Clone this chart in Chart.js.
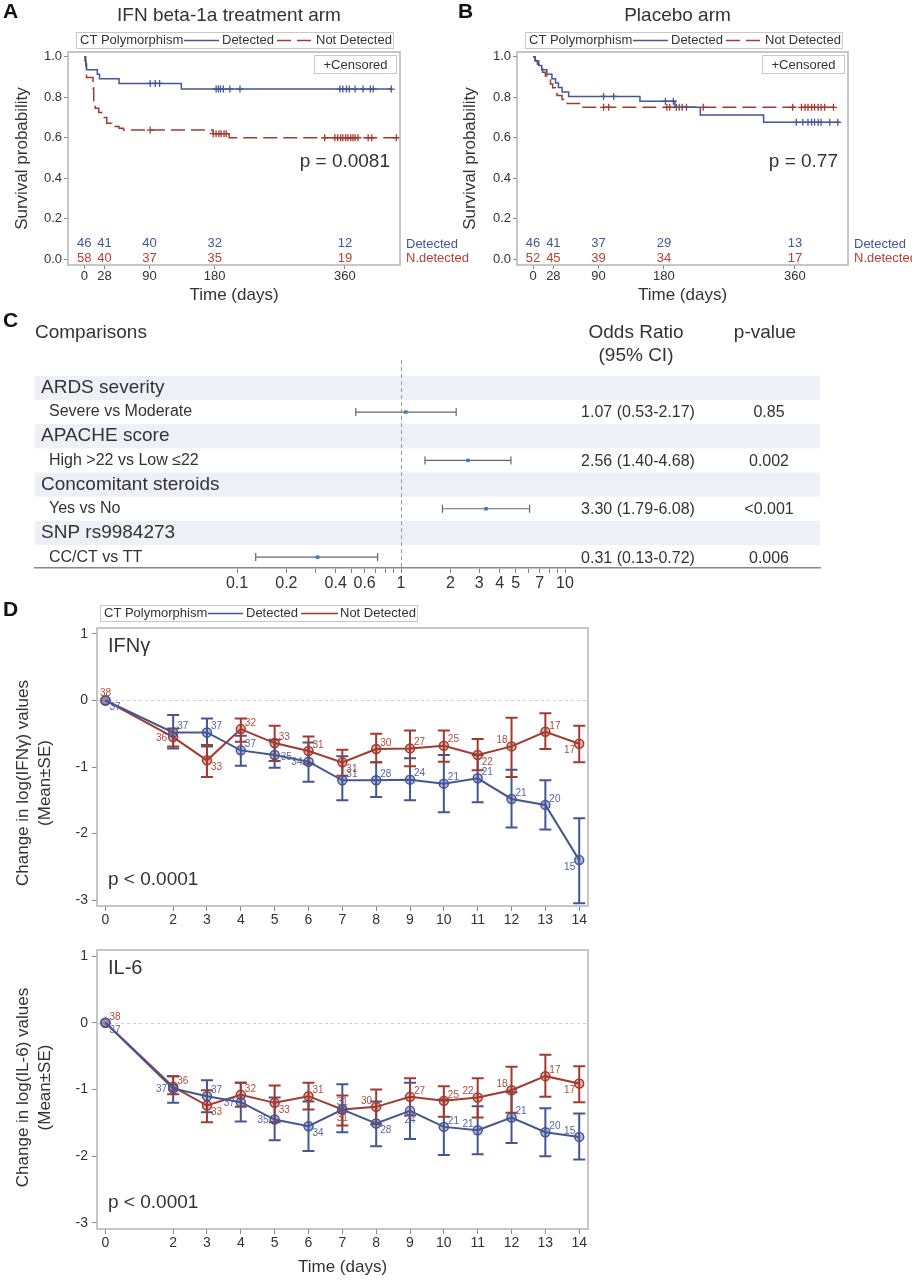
<!DOCTYPE html>
<html>
<head>
<meta charset="utf-8">
<script src="https://cdn.jsdelivr.net/npm/chart.js@4.4.1/dist/chart.umd.min.js"></script>
<style>
  body { margin: 0; background: #fff; width: 912px; height: 1280px; position: relative; overflow: hidden; }
  canvas { position: absolute; }
</style>
</head>
<body>
<canvas id="kmA" width="480" height="306" style="left:0;top:0"></canvas>
<canvas id="kmB" width="456" height="306" style="left:456px;top:0"></canvas>
<canvas id="forest" width="912" height="300" style="left:0;top:300px"></canvas>
<canvas id="ifn" width="620" height="330" style="left:0;top:600px"></canvas>
<canvas id="il6" width="620" height="350" style="left:0;top:930px"></canvas>
<script>
// ===== datos =====
const BLUE = '#445694', RED = '#A23A2E';
const FONT = '"Liberation Sans", Arial, Helvetica, sans-serif';

// A/B: Kaplan-Meier
const kmTicks = [0, 28, 90, 180, 360];
const probTicks = [0, 0.2, 0.4, 0.6, 0.8, 1.0];

const aDetT = [0, 1, 2, 3, 18, 21, 48, 134, 425];
const aDetS = [1, 0.978, 0.957, 0.935, 0.913, 0.891, 0.868, 0.840, 0.840];
const aDetCens = [91, 98, 104, 182, 185, 188, 192, 201, 215, 353, 357, 362, 366, 374, 385, 395, 399, 424];
const aNotT = [0, 2, 3, 12, 13, 15, 20, 24, 31, 38, 48, 54, 178, 200, 431];
const aNotS = [1, 0.966, 0.897, 0.845, 0.776, 0.745, 0.724, 0.700, 0.672, 0.655, 0.647, 0.638, 0.620, 0.600, 0.600];
const aNotCens = [91, 178, 182, 186, 189, 193, 196, 332, 346, 350, 354, 357, 361, 364, 368, 371, 374, 378, 392, 397, 431];
const aRiskDet = [46, 41, 40, 32, 12];
const aRiskNot = [58, 40, 37, 35, 19];

const bDetT = [0, 3, 8, 12, 19, 26, 31, 35, 40, 49, 147, 195, 230, 317, 422];
const bDetS = [1, 0.978, 0.957, 0.935, 0.913, 0.891, 0.870, 0.848, 0.826, 0.804, 0.780, 0.750, 0.712, 0.676, 0.676];
const bDetCens = [97, 111, 182, 193, 362, 371, 378, 383, 387, 392, 396, 408, 419];
const bNotT = [0, 3, 6, 9, 13, 17, 20, 24, 27, 31, 33, 40, 47, 65, 413];
const bNotS = [1, 0.981, 0.962, 0.942, 0.923, 0.904, 0.885, 0.865, 0.846, 0.827, 0.808, 0.789, 0.769, 0.750, 0.750];
const bNotCens = [97, 104, 184, 188, 197, 201, 205, 211, 234, 357, 369, 374, 378, 383, 387, 392, 396, 401, 413];
const bRiskDet = [46, 41, 37, 29, 13];
const bRiskNot = [52, 45, 39, 34, 17];

// C: forest
const groupNames = ['ARDS severity', 'APACHE score', 'Concomitant steroids', 'SNP rs9984273'];
const compLabels = ['Severe vs Moderate', 'High >22 vs Low \u226422', 'Yes vs No', 'CC/CT vs TT'];
const orVals = [1.07, 2.56, 3.30, 0.31];
const orLo   = [0.53, 1.40, 1.79, 0.13];
const orHi   = [2.17, 4.68, 6.08, 0.72];
const pVals  = ['0.85', '0.002', '<0.001', '0.006'];
const forestTicks  = [0.1, 0.2, 0.3, 0.4, 0.5, 0.6, 0.7, 0.8, 0.9, 1, 2, 3, 4, 5, 6, 7, 8, 9, 10];
const forestLabels = [0.1, 0.2, 0.4, 0.6, 1, 2, 3, 4, 5, 7, 10];

// D: cambio en log(valores)
const days = [0, 2, 3, 4, 5, 6, 7, 8, 9, 10, 11, 12, 13, 14];
const dayTicks = days;
const valTicks = [-3, -2, -1, 0, 1];
const nDet = [37, 37, 37, 37, 35, 34, 31, 28, 24, 21, 21, 21, 20, 15];
const nNot = [38, 36, 33, 32, 33, 31, 31, 30, 27, 25, 22, 18, 17, 17];

const ifnDetMean = [0, -0.48, -0.48, -0.75, -0.82, -0.92, -1.20, -1.20, -1.19, -1.25, -1.17, -1.48, -1.57, -2.40];
const ifnDetLo   = [0, -0.72, -0.69, -0.98, -1.01, -1.22, -1.50, -1.45, -1.50, -1.68, -1.53, -1.91, -1.94, -3.05];
const ifnDetHi   = [0, -0.22, -0.27, -0.53, -0.59, -0.63, -0.84, -0.93, -0.87, -0.82, -0.82, -1.04, -1.20, -1.77];
const ifnNotMean = [0, -0.55, -0.90, -0.43, -0.64, -0.76, -0.93, -0.73, -0.72, -0.68, -0.82, -0.69, -0.47, -0.65];
const ifnNotLo   = [0, -0.69, -1.15, -0.62, -0.91, -0.95, -1.13, -0.93, -0.99, -0.92, -1.05, -1.15, -0.73, -0.93];
const ifnNotHi   = [0, -0.42, -0.67, -0.27, -0.38, -0.54, -0.74, -0.50, -0.45, -0.45, -0.58, -0.26, -0.19, -0.38];
const ifnDetPos  = ['se','ne','ne','ne','e','w','ne','ne','ne','ne','ne','ne','ne','sw'];
const ifnNotPos  = ['n','w','se','ne','ne','ne','se','ne','ne','ne','se','nw','ne','sw'];

const il6DetMean = [0, -0.985, -1.10, -1.19, -1.45, -1.55, -1.30, -1.51, -1.32, -1.56, -1.61, -1.42, -1.64, -1.71];
const il6DetLo   = [0, -1.20, -1.34, -1.48, -1.76, -1.92, -1.64, -1.85, -1.74, -1.98, -1.97, -1.80, -2.00, -2.05];
const il6DetHi   = [0, -0.80, -0.86, -0.90, -1.12, -1.18, -0.92, -1.18, -0.90, -1.15, -1.25, -1.04, -1.28, -1.36];
const il6NotMean = [0, -0.96, -1.24, -1.08, -1.20, -1.10, -1.30, -1.26, -1.11, -1.17, -1.12, -1.01, -0.80, -0.91];
const il6NotLo   = [0, -1.07, -1.49, -1.26, -1.49, -1.30, -1.54, -1.52, -1.39, -1.41, -1.42, -1.35, -1.11, -1.19];
const il6NotHi   = [0, -0.80, -1.01, -0.90, -0.94, -0.90, -1.09, -1.00, -0.83, -0.95, -0.83, -0.66, -0.48, -0.65];
const il6DetPos  = ['se','w','ne','w','w','se','n','se','s','ne','nw','ne','ne','nw'];
const il6NotPos  = ['ne','ne','se','ne','se','ne','s','nw','ne','ne','nw','nw','ne','sw'];

// ===== helpers =====
Chart.defaults.font.family = FONT;
Chart.defaults.color = '#333';
Chart.defaults.animation = false;
const FRAME = '#b4b4b4';

function stepPts(T, S) { return T.map((t, i) => ({ x: t, y: S[i] })); }
function levelAt(T, S, t) { let v = S[0]; T.forEach((tt, i) => { if (tt <= t) v = S[i]; }); return v; }
function censPts(C, T, S) { return C.map(t => ({ x: t, y: levelAt(T, S, t) })); }
function fixTicks(list) { return s => { s.ticks = list.map(v => ({ value: v })); }; }

function drawLegend(ctx, left, top, dashed) {
  const w = 317, h = 16, cy = top + h / 2 + 0.5;
  ctx.save();
  ctx.strokeStyle = '#c8c8c8'; ctx.lineWidth = 1;
  ctx.strokeRect(left + 0.5, top + 0.5, w, h);
  ctx.font = '13px ' + FONT; ctx.fillStyle = '#333';
  ctx.textAlign = 'left'; ctx.textBaseline = 'middle';
  ctx.fillText('CT Polymorphism', left + 4, cy);
  ctx.lineWidth = 1.5;
  ctx.strokeStyle = BLUE;
  ctx.beginPath(); ctx.moveTo(left + 108, cy); ctx.lineTo(left + 143, cy); ctx.stroke();
  ctx.fillText('Detected', left + 146, cy);
  ctx.strokeStyle = RED;
  if (dashed) ctx.setLineDash([14, 6]);
  ctx.beginPath(); ctx.moveTo(left + 201, cy); ctx.lineTo(left + 238, cy); ctx.stroke();
  ctx.setLineDash([]);
  ctx.fillText('Not Detected', left + 240, cy);
  ctx.restore();
}

// ===== A / B =====
function kmPanel(id, o) {
  const decor = {
    id: 'kmDecor',
    afterDraw(chart) {
      const { ctx, chartArea: ca, scales: { x, y } } = chart;
      ctx.save();
      ctx.strokeStyle = FRAME; ctx.lineWidth = 1.5;
      ctx.strokeRect(ca.left, ca.top, ca.width, ca.height);

      ctx.textBaseline = 'middle';
      ctx.fillStyle = '#111'; ctx.font = 'bold 21px ' + FONT; ctx.textAlign = 'left';
      ctx.fillText(o.letter, o.letterX, 12);

      ctx.fillStyle = '#333'; ctx.font = '19px ' + FONT; ctx.textAlign = 'center';
      ctx.fillText(o.title, (ca.left + ca.right) / 2 - 5, 16);

      drawLegend(ctx, ca.left + 8, 32, true);

      // caja +Censored
      ctx.strokeStyle = '#c8c8c8'; ctx.lineWidth = 1;
      ctx.strokeRect(ca.right - 85.5, ca.top + 3.5, 82, 18);
      ctx.font = '13px ' + FONT; ctx.fillStyle = '#333';
      ctx.fillText('+Censored', ca.right - 44.5, ca.top + 13);

      ctx.font = '19px ' + FONT; ctx.textAlign = 'right';
      ctx.fillText(o.p, ca.right - 10, y.getPixelForValue(0.48));

      // numeros en riesgo
      ctx.font = '13px ' + FONT; ctx.textAlign = 'center';
      kmTicks.forEach((t, i) => {
        ctx.fillStyle = BLUE; ctx.fillText(String(o.riskDet[i]), x.getPixelForValue(t), y.getPixelForValue(0.08));
        ctx.fillStyle = '#b8402f'; ctx.fillText(String(o.riskNot[i]), x.getPixelForValue(t), y.getPixelForValue(0.006));
      });
      ctx.textAlign = 'left';
      ctx.fillStyle = BLUE; ctx.fillText('Detected', ca.right + 6, y.getPixelForValue(0.075));
      ctx.fillStyle = '#b8402f'; ctx.fillText('N.detected', ca.right + 6, y.getPixelForValue(0.003));
      ctx.restore();
    }
  };

  return new Chart(document.getElementById(id), {
    type: 'line',
    data: {
      datasets: [
        { data: stepPts(o.detT, o.detS), borderColor: BLUE, borderWidth: 1.5, stepped: true, pointRadius: 0 },
        { data: stepPts(o.notT, o.notS), borderColor: RED, borderWidth: 1.5, borderDash: [14, 6], stepped: true, pointRadius: 0 },
        { type: 'scatter', data: censPts(o.detCens, o.detT, o.detS), pointStyle: 'cross', pointRadius: 3.5, borderColor: BLUE, borderWidth: 1.3 },
        { type: 'scatter', data: censPts(o.notCens, o.notT, o.notS), pointStyle: 'cross', pointRadius: 3.5, borderColor: RED, borderWidth: 1.3 }
      ]
    },
    options: {
      responsive: false,
      layout: { padding: { left: 0, top: 52, right: o.padRight, bottom: 0 } },
      plugins: { legend: { display: false }, tooltip: { enabled: false } },
      scales: {
        x: {
          type: 'linear', min: o.xmin, max: o.xmax,
          afterBuildTicks: fixTicks(kmTicks),
          afterFit: s => { s.height = 41; },
          grid: { drawOnChartArea: false, tickLength: 4, color: '#888' },
          border: { display: false },
          ticks: { padding: 0, autoSkip: false, maxRotation: 0, font: { size: 13 }, color: '#333' },
          title: { display: true, text: 'Time (days)', font: { size: 17 }, color: '#333', padding: 0 }
        },
        y: {
          min: -0.028, max: 1.023,
          afterBuildTicks: fixTicks(probTicks),
          afterFit: s => { s.width = o.axisW; },
          grid: { drawOnChartArea: false, tickLength: 4, color: '#888' },
          border: { display: false },
          ticks: { padding: 2, callback: v => Number(v).toFixed(1), font: { size: 13 }, color: '#333' },
          title: { display: true, text: 'Survival probability', font: { size: 17 }, color: '#333', padding: { top: o.yTitlePad, bottom: 0 } }
        }
      }
    },
    plugins: [decor]
  });
}

kmPanel('kmA', {
  letter: 'A', letterX: 3, title: 'IFN beta-1a treatment arm', p: 'p = 0.0081',
  detT: aDetT, detS: aDetS, detCens: aDetCens, notT: aNotT, notS: aNotS, notCens: aNotCens,
  riskDet: aRiskDet, riskNot: aRiskNot,
  xmin: -22.5, xmax: 436, axisW: 68, padRight: 80, yTitlePad: 12.3
});
kmPanel('kmB', {
  letter: 'B', letterX: 2, title: 'Placebo arm', p: 'p = 0.77',
  detT: bDetT, detS: bDetS, detCens: bDetCens, notT: bNotT, notS: bNotS, notCens: bNotCens,
  riskDet: bRiskDet, riskNot: bRiskNot,
  xmin: -22, xmax: 433, axisW: 61, padRight: 64, yTitlePad: 3.8
});

// ===== C =====
const forestDecor = {
  id: 'forestDecor',
  beforeDatasetsDraw(chart) {
    const { ctx, chartArea: ca, scales: { x, y } } = chart;
    ctx.save();
    ctx.fillStyle = '#eef0f7';
    groupNames.forEach((g, i) => {
      const a = y.getPixelForValue(2 * i - 0.5), b = y.getPixelForValue(2 * i + 0.5);
      ctx.fillRect(ca.left, Math.min(a, b), ca.width, Math.abs(b - a));
    });
    ctx.strokeStyle = '#9a9a9a'; ctx.lineWidth = 1; ctx.setLineDash([4, 3]);
    const x1 = Math.round(x.getPixelForValue(1)) + 0.5;
    ctx.beginPath(); ctx.moveTo(x1, y.getPixelForValue(-1.15)); ctx.lineTo(x1, ca.bottom); ctx.stroke();
    ctx.setLineDash([]);
    ctx.strokeStyle = '#666'; ctx.lineWidth = 1.2;
    compLabels.forEach((c, i) => {
      const yc = y.getPixelForValue(2 * i + 1);
      const xa = x.getPixelForValue(orLo[i]), xb = x.getPixelForValue(orHi[i]);
      ctx.beginPath();
      ctx.moveTo(xa, yc); ctx.lineTo(xb, yc);
      ctx.moveTo(xa, yc - 4); ctx.lineTo(xa, yc + 4);
      ctx.moveTo(xb, yc - 4); ctx.lineTo(xb, yc + 4);
      ctx.stroke();
    });
    ctx.restore();
  },
  afterDraw(chart) {
    const { ctx, chartArea: ca, scales: { y } } = chart;
    ctx.save();
    ctx.textBaseline = 'middle';
    ctx.fillStyle = '#111'; ctx.font = 'bold 21px ' + FONT; ctx.textAlign = 'left';
    ctx.fillText('C', 3, 21);
    ctx.fillStyle = '#333'; ctx.font = '19px ' + FONT;
    ctx.fillText('Comparisons', ca.left, 33);
    ctx.textAlign = 'center';
    ctx.fillText('Odds Ratio', 636, 33);
    ctx.fillText('(95% CI)', 636, 56);
    ctx.fillText('p-value', 765, 33);
    groupNames.forEach((g, i) => {
      ctx.font = '19px ' + FONT; ctx.textAlign = 'left';
      ctx.fillText(g, ca.left + 6, y.getPixelForValue(2 * i));
      const yc = y.getPixelForValue(2 * i + 1);
      ctx.font = '16px ' + FONT;
      ctx.fillText(compLabels[i], ca.left + 14, yc);
      ctx.textAlign = 'center';
      ctx.fillText(orVals[i].toFixed(2) + ' (' + orLo[i].toFixed(2) + '-' + orHi[i].toFixed(2) + ')', 638, yc + 1);
      ctx.fillText(pVals[i], 769, yc + 1);
    });
    ctx.restore();
  }
};

new Chart(document.getElementById('forest'), {
  type: 'scatter',
  data: {
    datasets: [{
      data: orVals.map((v, i) => ({ x: v, y: 2 * i + 1 })),
      pointStyle: 'rect', pointRadius: 2.5, backgroundColor: '#3d7cc9', borderColor: '#3d7cc9', borderWidth: 0
    }]
  },
  options: {
    responsive: false,
    layout: { padding: { left: 35, right: 92, top: 0, bottom: 0 } },
    plugins: { legend: { display: false }, tooltip: { enabled: false } },
    scales: {
      x: {
        type: 'logarithmic', min: 0.005866, max: 358.7,
        afterBuildTicks: fixTicks(forestTicks),
        afterFit: s => { s.height = 32; },
        grid: { drawOnChartArea: false, tickLength: 5, color: '#888' },
        border: { display: true, color: '#888', width: 1.5 },
        ticks: { padding: 1, autoSkip: false, maxRotation: 0, font: { size: 16 }, color: '#333',
                 callback: v => forestLabels.includes(v) ? String(v) : '' }
      },
      y: { display: false, min: -3.47, max: 7.45, reverse: true }
    }
  },
  plugins: [forestDecor]
});

// ===== D =====
const errBars = {
  id: 'errBars',
  beforeDatasetsDraw(chart) {
    const { ctx, scales: { x, y } } = chart;
    chart.data.datasets.forEach(ds => {
      ctx.save();
      ctx.strokeStyle = ds.borderColor; ctx.lineWidth = 2;
      ds.data.forEach((p, i) => {
        if (ds.lo[i] === ds.hi[i]) return;
        const px = x.getPixelForValue(p.x), ya = y.getPixelForValue(ds.lo[i]), yb = y.getPixelForValue(ds.hi[i]);
        ctx.beginPath();
        ctx.moveTo(px, ya); ctx.lineTo(px, yb);
        ctx.moveTo(px - 6, ya); ctx.lineTo(px + 6, ya);
        ctx.moveTo(px - 6, yb); ctx.lineTo(px + 6, yb);
        ctx.stroke();
      });
      ctx.restore();
    });
  },
  afterDatasetsDraw(chart) {
    const { ctx, scales: { x, y } } = chart;
    const off = { ne: [4, -6, 'left'], e: [6, 2, 'left'], se: [4, 7, 'left'], nw: [-4, -6, 'right'],
                  w: [-6, 1, 'right'], sw: [-4, 7, 'right'], n: [0, -7, 'center'], s: [0, 9, 'center'] };
    ctx.save();
    ctx.font = '10px ' + FONT; ctx.textBaseline = 'middle';
    chart.data.datasets.forEach(ds => {
      ctx.fillStyle = ds.labelColor;
      ds.data.forEach((p, i) => {
        const [dx, dy, al] = off[ds.pos[i]];
        ctx.textAlign = al;
        ctx.fillText(String(ds.n[i]), x.getPixelForValue(p.x) + dx, y.getPixelForValue(p.y) + dy);
      });
    });
    ctx.restore();
  }
};

function seriesPanel(id, o) {
  const decor = {
    id: 'dDecor',
    beforeDatasetsDraw(chart) {
      const { ctx, chartArea: ca, scales: { y } } = chart;
      const y0 = Math.round(y.getPixelForValue(0)) + 0.5;
      ctx.save();
      ctx.strokeStyle = '#cfcfcf'; ctx.lineWidth = 1; ctx.setLineDash([3, 3]);
      ctx.beginPath(); ctx.moveTo(ca.left, y0); ctx.lineTo(ca.right, y0); ctx.stroke();
      ctx.restore();
    },
    afterDraw(chart) {
      const { ctx, chartArea: ca } = chart;
      ctx.save();
      ctx.strokeStyle = FRAME; ctx.lineWidth = 1.5;
      ctx.strokeRect(ca.left, ca.top, ca.width, ca.height);
      ctx.textBaseline = 'middle'; ctx.textAlign = 'left';
      if (o.letter) {
        ctx.fillStyle = '#111'; ctx.font = 'bold 21px ' + FONT;
        ctx.fillText(o.letter, 3, 10);
        drawLegend(ctx, ca.left + 3, 5, false);
      }
      // titulo del eje y (dos lineas)
      ctx.fillStyle = '#333'; ctx.font = '17px ' + FONT; ctx.textAlign = 'center';
      ctx.save();
      ctx.translate(23, (ca.top + ca.bottom) / 2 + o.yTitleShift);
      ctx.rotate(-Math.PI / 2);
      ctx.fillText(o.yTitle[0], 0, 0);
      ctx.fillText(o.yTitle[1], 0, 22);
      ctx.restore();

      ctx.textAlign = 'left';
      ctx.font = '20px ' + FONT;
      ctx.fillText(o.name, ca.left + 11, ca.top + 18);
      ctx.font = '19px ' + FONT;
      ctx.fillText('p < 0.0001', ca.left + 11, ca.bottom - 26);
      ctx.restore();
    }
  };
  const mk = (mean, lo, hi, n, pos, col, lab) => ({
    data: days.map((d, i) => ({ x: d, y: mean[i] })), lo, hi, n, pos, labelColor: lab,
    borderColor: col, borderWidth: 2, pointRadius: 4.5, pointBorderWidth: 1.5,
    pointBackgroundColor: col + '66', pointBorderColor: col
  });
  return new Chart(document.getElementById(id), {
    type: 'line',
    data: {
      datasets: [
        mk(o.detMean, o.detLo, o.detHi, nDet, o.detPos, BLUE, '#5565a8'),
        mk(o.notMean, o.notLo, o.notHi, nNot, o.notPos, RED, '#b44a3c')
      ]
    },
    options: {
      responsive: false,
      layout: { padding: { left: 0, top: o.padTop, right: 32, bottom: 0 } },
      plugins: { legend: { display: false }, tooltip: { enabled: false } },
      scales: {
        x: {
          type: 'linear', min: -0.25, max: 14.26,
          afterBuildTicks: fixTicks(dayTicks),
          afterFit: s => { s.height = o.xH; },
          grid: { drawOnChartArea: false, tickLength: 5, color: '#888' },
          border: { display: false },
          ticks: { padding: 1, autoSkip: false, maxRotation: 0, font: { size: 14 }, color: '#333' },
          title: { display: o.xTitle, text: 'Time (days)', font: { size: 17 }, color: '#333', padding: { top: 0, bottom: 2 } }
        },
        y: {
          min: -3.09, max: 1.09,
          afterBuildTicks: fixTicks(valTicks),
          afterFit: s => { s.width = 97; },
          grid: { drawOnChartArea: false, tickLength: 5, color: '#888' },
          border: { display: false },
          ticks: { padding: 4, font: { size: 14 }, color: '#333' }
        }
      }
    },
    plugins: [errBars, decor]
  });
}

seriesPanel('ifn', {
  letter: 'D', name: 'IFN\u03b3', padTop: 28, xH: 24, xTitle: false, yTitleShift: 16,
  yTitle: ['Change in log(IFN\u03b3) values', '(Mean\u00b1SE)'],
  detMean: ifnDetMean, detLo: ifnDetLo, detHi: ifnDetHi, detPos: ifnDetPos,
  notMean: ifnNotMean, notLo: ifnNotLo, notHi: ifnNotHi, notPos: ifnNotPos
});
seriesPanel('il6', {
  letter: '', name: 'IL-6', padTop: 20, xH: 51, xTitle: true, yTitleShift: -2,
  yTitle: ['Change in log(IL-6) values', '(Mean\u00b1SE)'],
  detMean: il6DetMean, detLo: il6DetLo, detHi: il6DetHi, detPos: il6DetPos,
  notMean: il6NotMean, notLo: il6NotLo, notHi: il6NotHi, notPos: il6NotPos
});
</script>
</body>
</html>
